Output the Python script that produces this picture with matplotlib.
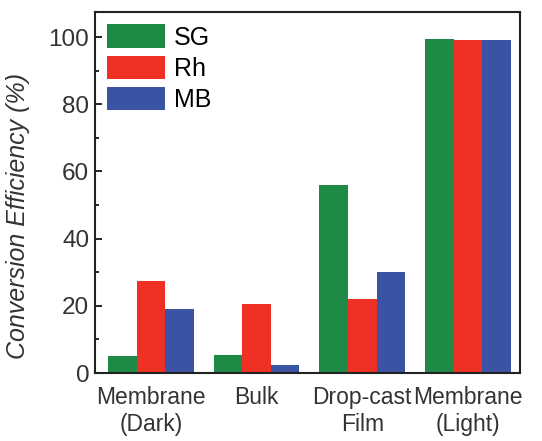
import matplotlib
matplotlib.use("Agg")
import matplotlib.pyplot as plt
from matplotlib.ticker import MultipleLocator
import numpy as np

categories = ["Membrane\n(Dark)", "Bulk", "Drop-cast\nFilm", "Membrane\n(Light)"]
series_names = ["SG", "Rh", "MB"]
sg = [5.0, 5.5, 56.0, 99.3]
rh = [27.5, 20.5, 22.0, 99.0]
mb = [19.0, 2.5, 30.0, 99.0]
colors = ["#1e8a46", "#ee3124", "#3a53a4"]

plt.rcParams['font.family'] = ['Liberation Sans', 'DejaVu Sans']

fig = plt.figure(figsize=(5.42, 4.41), dpi=100)
ax = fig.add_axes([0.175, 0.154, 0.784, 0.819])

x = np.arange(len(categories))
w = 0.27
for i, (vals, name, c) in enumerate(zip([sg, rh, mb], series_names, colors)):
    ax.bar(x + (i - 1) * w, vals, width=w, color=c, label=name, edgecolor='none')

ax.set_xlim(-0.53, 3.49)
ax.set_ylim(0, 107.5)
ax.set_xticks(x)
ax.set_xticklabels(categories, fontsize=16.5, color='#333333', linespacing=1.25)
ax.tick_params(axis='x', length=0, pad=9)
ax.yaxis.set_major_locator(MultipleLocator(20))
ax.yaxis.set_minor_locator(MultipleLocator(10))
ax.tick_params(axis='y', which='both', direction='in', labelsize=17.5, labelcolor='#333333', pad=4)
ax.tick_params(axis='y', which='major', length=5, width=1.2)
ax.tick_params(axis='y', which='minor', length=3, width=1.2)
for s in ax.spines.values():
    s.set_linewidth(1.5)
    s.set_color('#222222')
ax.set_ylabel("Conversion Efficiency (%)", fontsize=18, fontstyle='italic', color='#333333')
ax.yaxis.set_label_coords(-0.152, 0.435)

ax.legend(loc='upper left', frameon=False, fontsize=18, handlelength=2.3, handleheight=1.05,
          labelspacing=0.25, handletextpad=0.35, borderaxespad=0.3, borderpad=0.2)

fig.savefig("out.png", dpi=100)
